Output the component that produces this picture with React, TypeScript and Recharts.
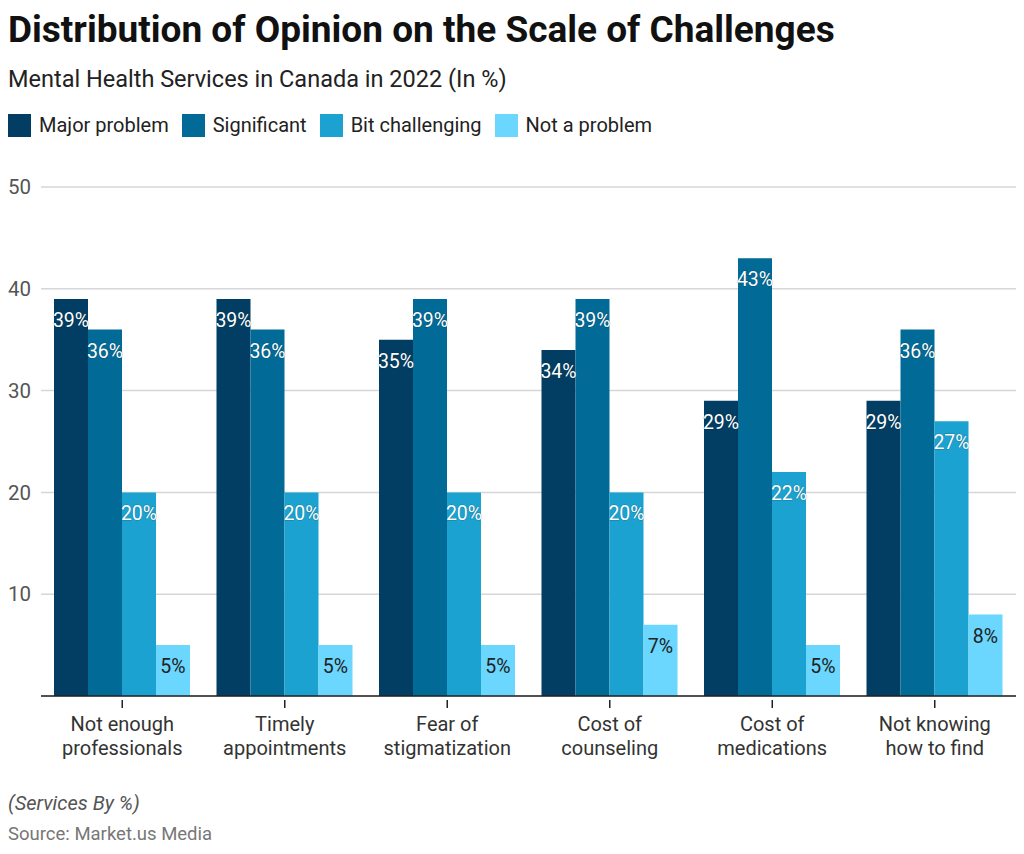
import React from "react"
import { BarChart, Bar, XAxis, YAxis, CartesianGrid, LabelList } from "recharts"

const categories = [
  ["Not enough", "professionals"],
  ["Timely", "appointments"],
  ["Fear of", "stigmatization"],
  ["Cost of", "counseling"],
  ["Cost of", "medications"],
  ["Not knowing", "how to find"],
]
const majorProblem = [39, 39, 35, 34, 29, 29]
const significant = [36, 36, 39, 39, 43, 36]
const bitChallenging = [20, 20, 20, 20, 22, 27]
const notAProblem = [5, 5, 5, 7, 5, 8]
const yTicks = [10, 20, 30, 40, 50]

const series = [
  { key: "major", name: "Major problem", color: "#023e63", text: "#fff" },
  { key: "significant", name: "Significant", color: "#026a96", text: "#fff" },
  { key: "bit", name: "Bit challenging", color: "#1ba2d0", text: "#fff" },
  { key: "not", name: "Not a problem", color: "#6bd6fe", text: "#222" },
]

const data = categories.map((c, i) => ({
  label: c.join("|"),
  major: majorProblem[i],
  significant: significant[i],
  bit: bitChallenging[i],
  not: notAProblem[i],
}))

const font = "Roboto, 'Noto Sans', sans-serif"

const CategoryTick = (props: any) => {
  const { x, y, payload } = props
  const lines = String(payload.value).split("|")
  return (
    <g>
      <line x1={x} x2={x} y1={y - 4} y2={y + 4} stroke="#222" strokeWidth={1.5} />
      <text x={x} y={y + 27} textAnchor="middle" fill="#333" fontSize={20} fontFamily={font}>
        {lines.map((l, i) => (
          <tspan key={i} x={x} dy={i === 0 ? 0 : 24}>{l}</tspan>
        ))}
      </text>
    </g>
  )
}

const makeLabel = (fill: string) => (props: any) => {
  const { x, y, width, value } = props
  return (
    <text
      x={x + width / 2}
      y={y + 28}
      textAnchor="middle"
      fill={fill}
      fontSize={19.5}
      fontFamily={font}
      stroke={fill === "#fff" ? "rgba(0,0,0,0.25)" : "none"}
      strokeWidth={1}
      paintOrder="stroke"
    >
      {value}%
    </text>
  )
}

export default function App() {
  return (
    <div style={{ position: "absolute", left: 0, top: 0, width: 1024, height: 854, background: "#fff", fontFamily: font }}>
      <div style={{ position: "absolute", left: 8, top: 8, fontSize: 37, fontWeight: 700, color: "#111" }}>
        Distribution of Opinion on the Scale of Challenges
      </div>
      <div style={{ position: "absolute", left: 8, top: 65, fontSize: 23.5, color: "#222" }}>
        Mental Health Services in Canada in 2022 (In %)
      </div>
      <div style={{ position: "absolute", left: 8, top: 113, display: "flex", alignItems: "center", fontSize: 20, color: "#222" }}>
        {series.map((s) => (
          <div key={s.key} style={{ display: "flex", alignItems: "center", marginRight: 13 }}>
            <span style={{ width: 23, height: 23, background: s.color, display: "inline-block", marginRight: 8 }} />
            <span>{s.name}</span>
          </div>
        ))}
      </div>
      <div style={{ position: "absolute", left: 0, top: 0 }}>
        <BarChart
          width={1024}
          height={854}
          data={data}
          margin={{ top: 187, right: 8, bottom: 98, left: 8 }}
          barCategoryGap="8%"
          barGap={0}
        >
          <CartesianGrid vertical={false} stroke="#d6d6d6" strokeWidth={1.5} />
          <XAxis
            dataKey="label"
            height={60}
            tick={<CategoryTick />}
            tickLine={false}
            axisLine={{ stroke: "#222", strokeWidth: 1.5 }}
            interval={0}
          />
          <YAxis
            width={33}
            domain={[0, 50]}
            ticks={yTicks}
            axisLine={false}
            tickLine={false}
            tickMargin={4}
            tick={{ fill: "#555", fontSize: 20.5, fontFamily: font }}
          />
          {series.map((s) => (
            <Bar key={s.key} dataKey={s.key} name={s.name} fill={s.color} isAnimationActive={false}>
              <LabelList dataKey={s.key} content={makeLabel(s.text)} />
            </Bar>
          ))}
        </BarChart>
      </div>
      <div style={{ position: "absolute", left: 8, top: 791, fontSize: 20, fontStyle: "italic", color: "#555" }}>
        (Services By %)
      </div>
      <div style={{ position: "absolute", left: 8, top: 823, fontSize: 18.5, color: "#777" }}>
        Source: Market.us Media
      </div>
    </div>
  )
}
